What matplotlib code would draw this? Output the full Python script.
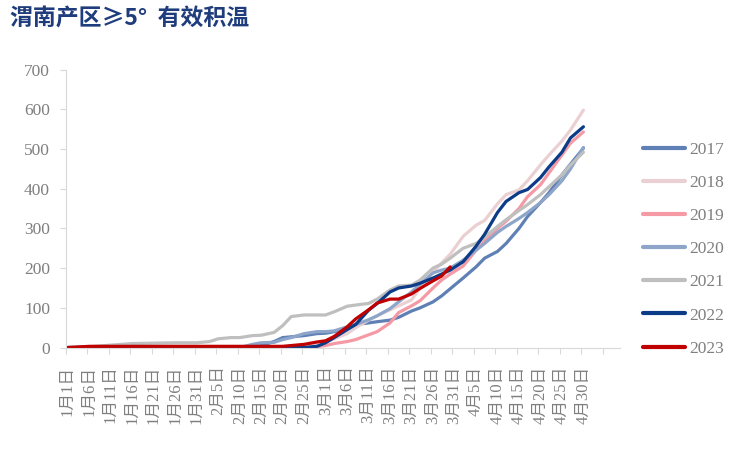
import matplotlib
matplotlib.use("Agg")
import matplotlib.pyplot as plt
import numpy as np

plt.rcParams['font.family'] = ['Liberation Serif', 'Noto Sans CJK SC', 'DejaVu Sans']

title = "渭南产区≥5°  有效积温"

x_labels = ["1月1日", "1月6日", "1月11日", "1月16日", "1月21日", "1月26日", "1月31日",
            "2月5日", "2月10日", "2月15日", "2月20日", "2月25日", "3月1日", "3月6日",
            "3月11日", "3月16日", "3月21日", "3月26日", "3月31日", "4月5日", "4月10日",
            "4月15日", "4月20日", "4月25日", "4月30日"]

days = [0, 5, 10, 15, 20, 25, 30, 33, 35, 38, 40, 43, 45, 48, 50, 52, 55, 58, 60, 62, 65, 67,
        70, 72, 75, 77, 80, 82, 85, 87, 89, 92, 95, 97, 100, 102, 105, 107, 110, 112, 115, 117, 120]

y2017 = [0, 0, 0, 0, 0, 0, 0, 0, 0, 0, 0, 2, 5, 15, 25, 27, 30, 35, 36, 40, 48, 58,
         62, 65, 69, 76, 92, 100, 115, 130, 148, 175, 203, 225, 242, 262, 300, 330, 365, 390, 435, 462, 502]
y2018 = [0, 0, 0, 0, 0, 0, 0, 0, 0, 0, 0, 0, 0, 0, 0, 0, 3, 8, 15, 22, 35, 50,
         69, 80, 95, 105, 120, 150, 190, 213, 235, 280, 308, 320, 362, 385, 397, 420, 460, 485, 520, 548, 598]
y2019 = [0, 0, 0, 0, 0, 0, 0, 0, 0, 0, 0, 0, 0, 0, 0, 0, 0, 2, 5, 10, 15, 20,
         32, 40, 62, 88, 105, 118, 150, 170, 185, 205, 245, 268, 300, 318, 350, 380, 410, 440, 485, 515, 543]
y2020 = [0, 0, 0, 0, 0, 0, 0, 0, 0, 0, 0, 8, 12, 13, 20, 25, 35, 40, 40, 42, 52, 58,
         70, 80, 98, 115, 140, 160, 188, 195, 200, 220, 245, 262, 290, 305, 325, 340, 365, 385, 420, 450, 504]
y2021 = [0, 2, 6, 10, 11, 12, 12, 15, 22, 25, 25, 30, 31, 38, 55, 78, 82, 82, 82, 90, 104, 107,
         111, 122, 145, 155, 157, 170, 200, 210, 225, 250, 262, 278, 305, 322, 345, 360, 385, 405, 435, 460, 492]
y2022 = [0, 0, 0, 0, 0, 0, 0, 0, 0, 0, 0, 0, 0, 0, 0, 0, 0, 3, 12, 25, 45, 58,
         94, 111, 140, 150, 155, 162, 175, 185, 195, 216, 255, 285, 340, 368, 390, 398, 428, 455, 492, 528, 556]
days_2023 = [0, 5, 10, 15, 20, 25, 30, 33, 35, 38, 40, 43, 45, 48, 50, 52, 55, 58, 60, 62, 65, 67,
             70, 72, 75, 77, 80, 82, 85, 87, 89]
y2023 = [0, 3, 3, 3, 3, 3, 3, 3, 3, 3, 3, 3, 3, 3, 3, 5, 8, 14, 17, 28, 52, 72,
         95, 112, 122, 122, 135, 149, 168, 180, 203]

series = [
    ("2017", days, y2017, "#5f80b4"),
    ("2018", days, y2018, "#ead0d3"),
    ("2019", days, y2019, "#f59aa5"),
    ("2020", days, y2020, "#8da5c9"),
    ("2021", days, y2021, "#bfbfbf"),
    ("2022", days, y2022, "#0c3b87"),
    ("2023", days_2023, y2023, "#c00000"),
]

fig = plt.figure(figsize=(7.48, 4.49), dpi=100)
ax = fig.add_axes([0.0878, 0.226, 0.741, 0.619])

for name, dx, dy, col in series:
    ax.plot(dx, dy, color=col, lw=2.3, label=name, solid_capstyle='round', solid_joinstyle='round')

ax.set_xlim(-0.5, 128.5)
ax.set_ylim(0, 700)
ax.set_yticks(np.arange(0, 701, 100))

tick_pos = list(range(0, 121, 5))
ax.set_xticks(tick_pos)
ax.set_xticklabels(x_labels, rotation=90, ha='center', va='top', color='#7f7f7f', fontsize=12)
ax.set_xticks([-0.5 + 5 * k for k in range(26)], minor=True)
ax.tick_params(axis='x', which='major', length=0, pad=13)
ax.tick_params(axis='x', which='minor', length=4.3, color='#d9d9d9', width=0.8)
ax.tick_params(axis='y', length=4.2, color='#d9d9d9', width=0.8, pad=7, labelsize=12.5, labelcolor='#7f7f7f')

for s in ['top', 'right']:
    ax.spines[s].set_visible(False)
for s in ['left', 'bottom']:
    ax.spines[s].set_color('#d9d9d9')
    ax.spines[s].set_linewidth(0.8)

leg = fig.legend(loc='upper left', bbox_to_anchor=(0.848, 0.704), frameon=False,
                 fontsize=12.5, labelcolor='#7f7f7f', handlelength=2.4, handletextpad=0.25,
                 labelspacing=0.98, borderpad=0)
for h in leg.get_lines():
    h.set_linewidth(3)

fig.text(0.0134, 0.958, title, fontsize=16.5, fontweight='bold', color='#1f3d7c',
         family=['Noto Sans CJK SC'], va='center', ha='left')

fig.savefig("out.png", dpi=100, facecolor='white')
